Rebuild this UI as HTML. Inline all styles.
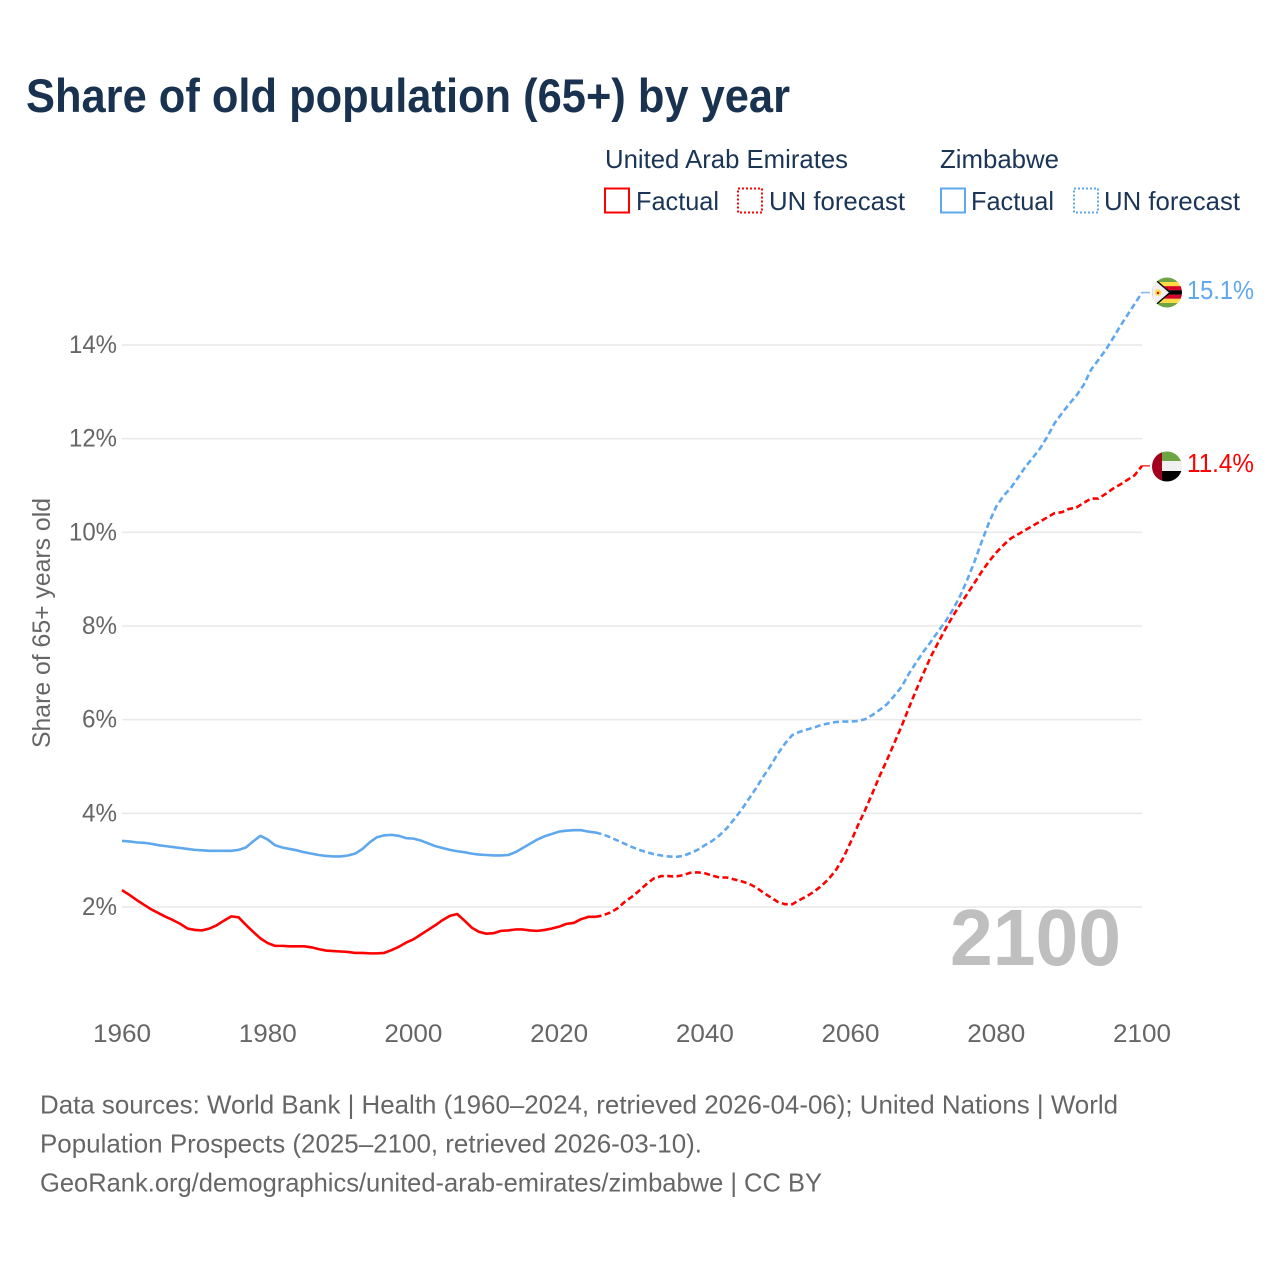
<!DOCTYPE html>
<html lang="en">
<head>
<meta charset="utf-8">
<title>Share of old population (65+) by year</title>
<style>
html,body{margin:0;padding:0;background:#fff;}
svg{display:block;}
text{font-family:"Liberation Sans",sans-serif;}
</style>
</head>
<body>
<svg id="chart" xmlns="http://www.w3.org/2000/svg" width="1280" height="1280" viewBox="0 0 1280 1280">
<defs>
<clipPath id="flag-clip-zw"><circle cx="1167" cy="292.5" r="15"/></clipPath>
<clipPath id="flag-clip-ae"><circle cx="1167" cy="466.5" r="15"/></clipPath>
</defs>
<rect x="0" y="0" width="1280" height="1280" fill="#ffffff"/>
<text x="26" y="112" font-size="47" font-weight="700" fill="#18324f" textLength="764" lengthAdjust="spacingAndGlyphs">Share of old population (65+) by year</text>

<g font-size="26" fill="#1b3557">
<text x="605" y="168" textLength="243" lengthAdjust="spacingAndGlyphs">United Arab Emirates</text>
<text x="940" y="168" textLength="119" lengthAdjust="spacingAndGlyphs">Zimbabwe</text>
<rect x="605" y="188.5" width="24" height="24" fill="none" stroke="#ff0000" stroke-width="2"/>
<text x="636" y="210" textLength="83" lengthAdjust="spacingAndGlyphs">Factual</text>
<rect x="738" y="188.5" width="24" height="24" fill="none" stroke="#ff0000" stroke-width="2" stroke-dasharray="2 2"/>
<text x="769" y="210" textLength="136" lengthAdjust="spacingAndGlyphs">UN forecast</text>
<rect x="941" y="188.5" width="24" height="24" fill="none" stroke="#5fa8ee" stroke-width="2"/>
<text x="971" y="210" textLength="83" lengthAdjust="spacingAndGlyphs">Factual</text>
<rect x="1074" y="188.5" width="24" height="24" fill="none" stroke="#5fa8ee" stroke-width="2" stroke-dasharray="2 2"/>
<text x="1104" y="210" textLength="136" lengthAdjust="spacingAndGlyphs">UN forecast</text>
</g>

<g id="grid"></g>
<g id="y-ticks"></g>
<g id="x-ticks"></g>
<text transform="translate(50 623) rotate(-90)" text-anchor="middle" font-size="25" fill="#666666" textLength="250" lengthAdjust="spacingAndGlyphs">Share of 65+ years old</text>

<text x="950" y="965" font-size="80" font-weight="700" fill="#bfbfbf" textLength="171" lengthAdjust="spacingAndGlyphs">2100</text>

<g id="series"></g>

<g clip-path="url(#flag-clip-zw)">
<rect x="1150" y="277" width="34" height="5.2" fill="#6da544"/>
<rect x="1150" y="282" width="34" height="4.4" fill="#ffda44"/>
<rect x="1150" y="286.2" width="34" height="4" fill="#d80027"/>
<rect x="1150" y="290.2" width="34" height="4.6" fill="#000000"/>
<rect x="1150" y="294.8" width="34" height="4" fill="#d80027"/>
<rect x="1150" y="298.8" width="34" height="4.4" fill="#ffda44"/>
<rect x="1150" y="303" width="34" height="5" fill="#6da544"/>
<polygon points="1151,276 1170,292.5 1151,309" fill="#f0f0f0" stroke="#000000" stroke-width="1.4"/>
<circle cx="1158" cy="292.5" r="3.2" fill="#ffda44"/>
<circle cx="1158" cy="293" r="1.2" fill="#d80027"/>
</g>
<g clip-path="url(#flag-clip-ae)">
<rect x="1150" y="451" width="34" height="11" fill="#6da544"/>
<rect x="1150" y="461" width="34" height="11" fill="#f0f0f0"/>
<rect x="1150" y="471" width="34" height="12" fill="#000000"/>
<rect x="1150" y="451" width="12" height="32" fill="#a2001d"/>
</g>

<text id="value-label-zimbabwe" x="1187" y="299" font-size="26" fill="#5fa8ee" textLength="67" lengthAdjust="spacingAndGlyphs">15.1%</text>
<text id="value-label-uae" x="1187" y="472" font-size="26" fill="#ff0000" textLength="67" lengthAdjust="spacingAndGlyphs">11.4%</text>

<g font-size="26" fill="#666666">
<text x="40" y="1113.5" textLength="1078" lengthAdjust="spacingAndGlyphs">Data sources: World Bank | Health (1960–2024, retrieved 2026-04-06); United Nations | World</text>
<text x="40" y="1152.5" textLength="662" lengthAdjust="spacingAndGlyphs">Population Prospects (2025–2100, retrieved 2026-03-10).</text>
<text x="40" y="1191.5" textLength="782" lengthAdjust="spacingAndGlyphs">GeoRank.org/demographics/united-arab-emirates/zimbabwe | CC BY</text>
</g>
</svg>
<script>
const firstYear = 1960;
const factualEndYear = 2025;
const xTickYears = [1960, 1980, 2000, 2020, 2040, 2060, 2080, 2100];
const yTickValues = [2, 4, 6, 8, 10, 12, 14];
const uaeValues = [
2.36,2.26,2.15,2.05,1.95,1.87,1.79,1.72,1.64,1.54,
1.51,1.50,1.54,1.61,1.71,1.80,1.78,1.62,1.47,1.33,
1.23,1.17,1.17,1.16,1.16,1.16,1.14,1.10,1.07,1.06,
1.05,1.04,1.02,1.02,1.01,1.01,1.02,1.08,1.15,1.24,
1.31,1.41,1.51,1.61,1.72,1.81,1.85,1.71,1.56,1.47,
1.43,1.44,1.49,1.50,1.52,1.52,1.50,1.49,1.51,1.54,
1.58,1.64,1.66,1.74,1.79,1.79,1.82,1.88,1.97,2.11,
2.22,2.35,2.49,2.61,2.66,2.66,2.65,2.68,2.73,2.74,
2.72,2.67,2.63,2.63,2.59,2.55,2.50,2.42,2.31,2.21,
2.11,2.06,2.06,2.15,2.23,2.33,2.45,2.60,2.79,3.05,
3.38,3.74,4.07,4.43,4.80,5.14,5.50,5.86,6.25,6.63,
6.99,7.34,7.64,7.93,8.20,8.45,8.68,8.92,9.16,9.38,
9.57,9.73,9.87,9.96,10.05,10.14,10.23,10.32,10.41,10.43,
10.50,10.53,10.63,10.72,10.72,10.82,10.93,11.02,11.12,11.22,
11.42];
const zimbabweValues = [
3.41,3.40,3.38,3.37,3.35,3.32,3.30,3.28,3.26,3.24,
3.22,3.21,3.20,3.20,3.20,3.20,3.22,3.27,3.40,3.52,
3.44,3.32,3.27,3.24,3.21,3.17,3.14,3.11,3.09,3.08,
3.08,3.10,3.14,3.24,3.38,3.49,3.53,3.54,3.52,3.47,
3.46,3.42,3.36,3.30,3.26,3.22,3.19,3.17,3.14,3.12,
3.11,3.10,3.10,3.11,3.17,3.26,3.35,3.44,3.51,3.56,
3.61,3.63,3.64,3.64,3.61,3.59,3.55,3.49,3.42,3.35,
3.28,3.22,3.17,3.13,3.10,3.08,3.07,3.09,3.15,3.22,
3.32,3.41,3.53,3.68,3.87,4.07,4.30,4.53,4.78,5.01,
5.27,5.49,5.67,5.74,5.79,5.83,5.89,5.92,5.95,5.96,
5.96,5.97,6.01,6.10,6.21,6.33,6.51,6.70,6.98,7.22,
7.45,7.66,7.88,8.09,8.34,8.63,8.98,9.37,9.80,10.21,
10.55,10.78,10.95,11.17,11.40,11.59,11.79,12.04,12.33,12.54,
12.74,12.92,13.15,13.47,13.68,13.89,14.14,14.40,14.64,14.88,
15.12];

const SVG_NS = 'http://www.w3.org/2000/svg';
const plotLeft = 122, plotRight = 1142, yearMin = 1960, yearMax = 2100;
const valueRefLow = 2, valueRefHigh = 14, pixelRefLow = 907, pixelRefHigh = 345;
function xScale(year) {
  return plotLeft + (year - yearMin) * (plotRight - plotLeft) / (yearMax - yearMin);
}
function yScale(value) {
  return pixelRefLow + (value - valueRefLow) * (pixelRefHigh - pixelRefLow) / (valueRefHigh - valueRefLow);
}
function make(tag, attrs, parent) {
  const el = document.createElementNS(SVG_NS, tag);
  for (const k in attrs) el.setAttribute(k, attrs[k]);
  parent.appendChild(el);
  return el;
}
const gridGroup = document.getElementById('grid');
const yTickGroup = document.getElementById('y-ticks');
const xTickGroup = document.getElementById('x-ticks');
const seriesGroup = document.getElementById('series');

yTickValues.forEach(function (v) {
  const y = yScale(v);
  const line = make('line', { x1: plotLeft, x2: plotRight, y1: y, y2: y, stroke: '#e9e9e9', 'stroke-width': 1.5 }, gridGroup);
  
  
  const label = make('text', { x: 117, y: y + 8, 'text-anchor': 'end', 'font-size': 25, fill: '#666666', textLength: v >= 10 ? 48 : 35, lengthAdjust: 'spacingAndGlyphs' }, yTickGroup);
  label.textContent = v + '%';
  
  
});

xTickYears.forEach(function (yr) {
  const label = make('text', { x: xScale(yr), y: 1042, 'text-anchor': 'middle', 'font-size': 25, fill: '#666666', textLength: 58, lengthAdjust: 'spacingAndGlyphs' }, xTickGroup);
  label.textContent = String(yr);
  
  
});

function toPoints(values, fromYear, toYear) {
  const pts = [];
  values.forEach(function (v, i) {
    const yr = firstYear + i;
    if (yr >= fromYear && yr <= toYear) pts.push(xScale(yr).toFixed(2) + ',' + yScale(v).toFixed(2));
  });
  return pts.join(' ');
}
function drawSeries(key, values, color) {
  const solid = make('polyline', { points: toPoints(values, firstYear, factualEndYear), fill: 'none', stroke: color, 'stroke-width': 2.6, 'stroke-linejoin': 'round' }, seriesGroup);
  
  
  const dashed = make('polyline', { points: toPoints(values, factualEndYear, yearMax), fill: 'none', stroke: color, 'stroke-width': 2.6, 'stroke-dasharray': '6 3.4' }, seriesGroup);
  
  
  const lastY = yScale(values[values.length - 1]);
  const connector = make('line', { x1: plotRight, x2: plotRight + 8, y1: lastY, y2: lastY, stroke: color, 'stroke-width': 1.6, opacity: 0.75 }, seriesGroup);
  
  
}
drawSeries('zimbabwe', zimbabweValues, '#5fa8ee');
drawSeries('uae', uaeValues, '#ff0000');
</script>
</body>
</html>
